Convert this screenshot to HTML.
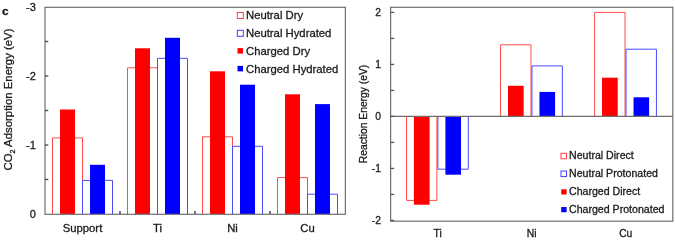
<!DOCTYPE html>
<html><head><meta charset="utf-8"><style>
html,body{margin:0;padding:0;background:#fff;width:675px;height:238px;overflow:hidden}
svg{display:block;will-change:transform;filter:blur(0.35px)}
text{font-family:"Liberation Sans",sans-serif;fill:#1a1a1a;stroke:#1a1a1a;stroke-width:0.3px}
</style></head><body>
<svg width="675" height="238" viewBox="0 0 675 238">
<path d="M52.50 214.00 V137.90 H82.50 V214.00" fill="none" stroke="#ff4a4a" stroke-width="1"/>
<path d="M82.50 214.00 V180.40 H112.50 V214.00" fill="none" stroke="#4a4aff" stroke-width="1"/>
<path d="M127.50 214.00 V67.80 H157.50 V214.00" fill="none" stroke="#ff4a4a" stroke-width="1"/>
<path d="M157.50 214.00 V58.30 H187.50 V214.00" fill="none" stroke="#4a4aff" stroke-width="1"/>
<path d="M202.50 214.00 V136.80 H232.50 V214.00" fill="none" stroke="#ff4a4a" stroke-width="1"/>
<path d="M232.50 214.00 V146.30 H262.50 V214.00" fill="none" stroke="#4a4aff" stroke-width="1"/>
<path d="M277.50 214.00 V177.60 H307.50 V214.00" fill="none" stroke="#ff4a4a" stroke-width="1"/>
<path d="M307.50 214.00 V194.20 H337.50 V214.00" fill="none" stroke="#4a4aff" stroke-width="1"/>
<rect x="60.00" y="109.50" width="15.00" height="104.50" fill="#ff0000"/>
<rect x="90.00" y="164.80" width="15.00" height="49.20" fill="#0000ff"/>
<rect x="135.00" y="48.30" width="15.00" height="165.70" fill="#ff0000"/>
<rect x="165.00" y="37.80" width="15.00" height="176.20" fill="#0000ff"/>
<rect x="210.00" y="71.30" width="15.00" height="142.70" fill="#ff0000"/>
<rect x="240.00" y="84.70" width="15.00" height="129.30" fill="#0000ff"/>
<rect x="285.00" y="94.30" width="15.00" height="119.70" fill="#ff0000"/>
<rect x="315.00" y="104.10" width="15.00" height="109.90" fill="#0000ff"/>
<rect x="45" y="7.3" width="300.4" height="207" fill="none" stroke="#6e6e6e" stroke-width="1.2"/>
<line x1="45" y1="179.5" x2="48.3" y2="179.5" stroke="#444" stroke-width="1.3"/>
<line x1="45" y1="145.0" x2="48.3" y2="145.0" stroke="#444" stroke-width="1.3"/>
<line x1="45" y1="110.5" x2="48.3" y2="110.5" stroke="#444" stroke-width="1.3"/>
<line x1="45" y1="76.0" x2="48.3" y2="76.0" stroke="#444" stroke-width="1.3"/>
<line x1="45" y1="41.5" x2="48.3" y2="41.5" stroke="#444" stroke-width="1.3"/>
<line x1="120.0" y1="214" x2="120.0" y2="211" stroke="#333" stroke-width="1.3"/>
<line x1="195.0" y1="214" x2="195.0" y2="211" stroke="#333" stroke-width="1.3"/>
<line x1="270.0" y1="214" x2="270.0" y2="211" stroke="#333" stroke-width="1.3"/>
<text x="35.8" y="218.0" font-size="11" text-anchor="end" >0</text>
<text x="35.8" y="149.0" font-size="11" text-anchor="end" >-1</text>
<text x="35.8" y="80.0" font-size="11" text-anchor="end" >-2</text>
<text x="35.8" y="11.0" font-size="11" text-anchor="end" >-3</text>
<text x="82.5" y="232.2" font-size="11.3" text-anchor="middle" >Support</text>
<text x="157.5" y="232.2" font-size="11.3" text-anchor="middle" >Ti</text>
<text x="232.5" y="232.2" font-size="11.3" text-anchor="middle" >Ni</text>
<text x="307.5" y="232.2" font-size="11.3" text-anchor="middle" >Cu</text>
<text transform="translate(12,99.5) rotate(-90)" font-size="11.4" text-anchor="middle">CO<tspan font-size="7.2" dy="2.5">2</tspan><tspan dy="-2.5"> Adsorption Energy (eV)</tspan></text>
<text x="2" y="15" font-size="11.8" font-weight="bold">c</text>
<rect x="237.3" y="12.50" width="6" height="6" fill="none" stroke="#ff4040" stroke-width="1"/>
<text x="246" y="19.1" font-size="11.3" text-anchor="start" >Neutral Dry</text>
<rect x="237.3" y="30.30" width="6" height="6" fill="none" stroke="#4040ff" stroke-width="1"/>
<text x="246" y="36.9" font-size="11.3" text-anchor="start" >Neutral Hydrated</text>
<rect x="237.5" y="48.10" width="5.5" height="5.5" fill="#ff0000"/>
<text x="246" y="54.7" font-size="11.3" text-anchor="start" >Charged Dry</text>
<rect x="237.5" y="65.90" width="5.5" height="5.5" fill="#0000ff"/>
<text x="246" y="72.5" font-size="11.3" text-anchor="start" >Charged Hydrated</text>
<path d="M406.50 116.40 V200.40 H436.90 V116.40" fill="none" stroke="#ff4a4a" stroke-width="1"/>
<path d="M437.90 116.40 V169.20 H468.30 V116.40" fill="none" stroke="#4a4aff" stroke-width="1"/>
<path d="M500.57 116.40 V44.80 H530.97 V116.40" fill="none" stroke="#ff4a4a" stroke-width="1"/>
<path d="M531.97 116.40 V65.90 H562.37 V116.40" fill="none" stroke="#4a4aff" stroke-width="1"/>
<path d="M594.63 116.40 V12.40 H625.03 V116.40" fill="none" stroke="#ff4a4a" stroke-width="1"/>
<path d="M626.03 116.40 V49.20 H656.43 V116.40" fill="none" stroke="#4a4aff" stroke-width="1"/>
<rect x="413.90" y="116.40" width="15.70" height="88.30" fill="#ff0000"/>
<rect x="445.40" y="116.40" width="15.60" height="58.30" fill="#0000ff"/>
<rect x="507.97" y="85.80" width="15.70" height="30.60" fill="#ff0000"/>
<rect x="539.47" y="91.90" width="15.60" height="24.50" fill="#0000ff"/>
<rect x="602.03" y="77.70" width="15.70" height="38.70" fill="#ff0000"/>
<rect x="633.53" y="97.30" width="15.60" height="19.10" fill="#0000ff"/>
<rect x="390.6" y="7.3" width="282.20" height="213.90" fill="none" stroke="#6e6e6e" stroke-width="1.2"/>
<line x1="390.6" y1="116.4" x2="672.8" y2="116.4" stroke="#6e6e6e" stroke-width="1.2"/>
<line x1="390.6" y1="220.4" x2="394.20000000000005" y2="220.4" stroke="#555" stroke-width="1.3"/>
<line x1="390.6" y1="194.4" x2="394.20000000000005" y2="194.4" stroke="#555" stroke-width="1.3"/>
<line x1="390.6" y1="168.4" x2="394.20000000000005" y2="168.4" stroke="#555" stroke-width="1.3"/>
<line x1="390.6" y1="142.4" x2="394.20000000000005" y2="142.4" stroke="#555" stroke-width="1.3"/>
<line x1="390.6" y1="116.4" x2="394.20000000000005" y2="116.4" stroke="#555" stroke-width="1.3"/>
<line x1="390.6" y1="90.4" x2="394.20000000000005" y2="90.4" stroke="#555" stroke-width="1.3"/>
<line x1="390.6" y1="64.4" x2="394.20000000000005" y2="64.4" stroke="#555" stroke-width="1.3"/>
<line x1="390.6" y1="38.400000000000006" x2="394.20000000000005" y2="38.400000000000006" stroke="#555" stroke-width="1.3"/>
<line x1="390.6" y1="12.400000000000006" x2="394.20000000000005" y2="12.400000000000006" stroke="#555" stroke-width="1.3"/>
<text x="381" y="16.100000000000005" font-size="10.3" text-anchor="end" >2</text>
<text x="381" y="68.10000000000001" font-size="10.3" text-anchor="end" >1</text>
<text x="381" y="120.10000000000001" font-size="10.3" text-anchor="end" >0</text>
<text x="381" y="172.1" font-size="10.3" text-anchor="end" >-1</text>
<text x="381" y="224.1" font-size="10.3" text-anchor="end" >-2</text>
<text x="437.6333333333333" y="236.9" font-size="10.3" text-anchor="middle" >Ti</text>
<text x="531.7" y="236.9" font-size="10.3" text-anchor="middle" >Ni</text>
<text x="625.7666666666667" y="236.9" font-size="10.3" text-anchor="middle" >Cu</text>
<text transform="translate(366.5,114) rotate(-90)" font-size="10.3" text-anchor="middle">Reaction Energy (eV)</text>
<rect x="561" y="153.30" width="5.5" height="5.5" fill="none" stroke="#ff4040" stroke-width="1"/>
<text x="569" y="159.4" font-size="10.6" text-anchor="start" >Neutral Direct</text>
<rect x="561" y="171.05" width="5.5" height="5.5" fill="none" stroke="#4040ff" stroke-width="1"/>
<text x="569" y="177.15" font-size="10.6" text-anchor="start" >Neutral Protonated</text>
<rect x="561.2" y="189.30" width="5.4" height="5.2" fill="#ff0000"/>
<text x="569" y="194.9" font-size="10.6" text-anchor="start" >Charged Direct</text>
<rect x="561.2" y="207.05" width="5.4" height="5.2" fill="#0000ff"/>
<text x="569" y="212.65" font-size="10.6" text-anchor="start" >Charged Protonated</text>
</svg>
</body></html>
